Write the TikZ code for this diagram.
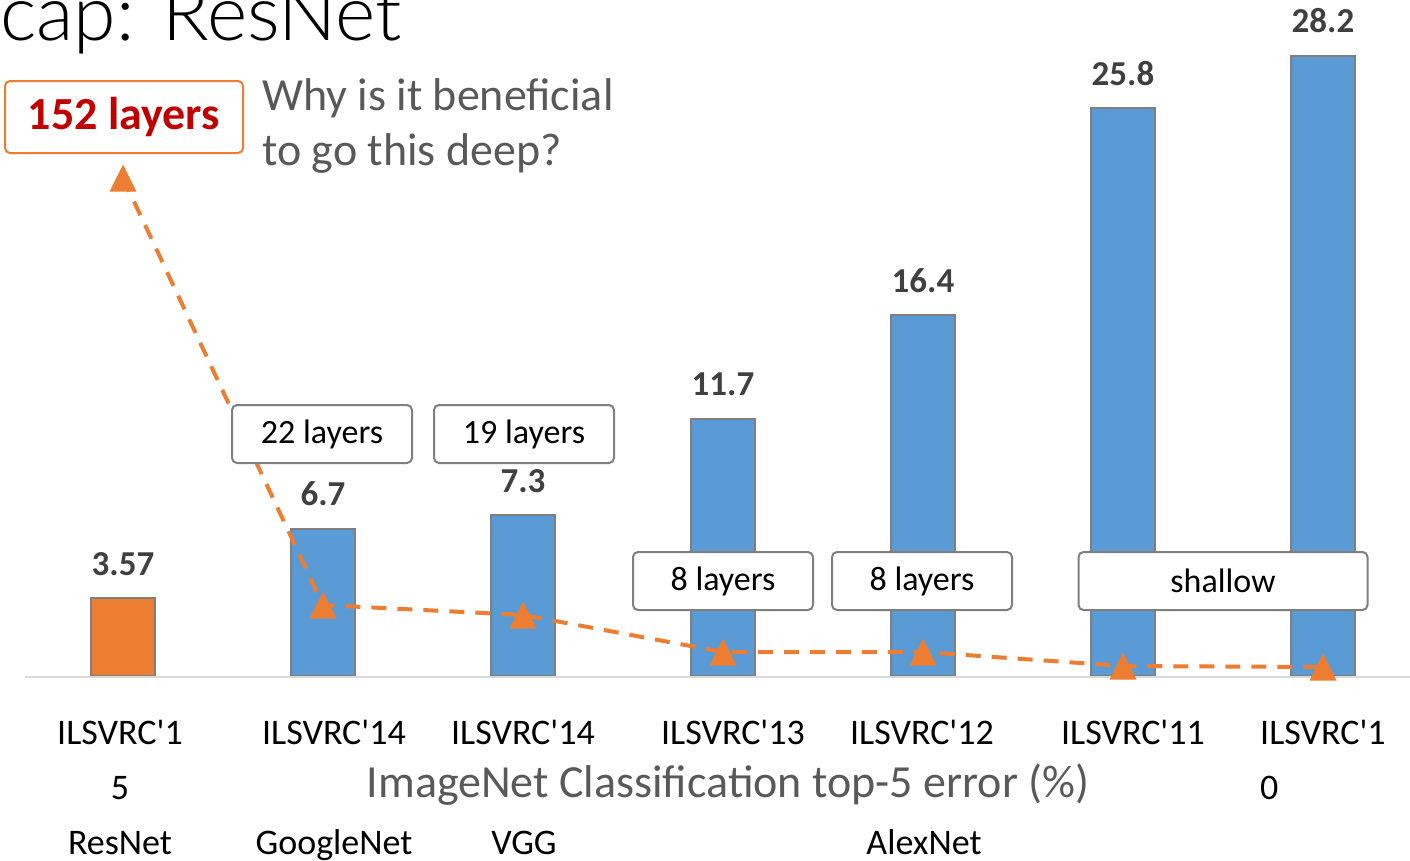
\documentclass[tikz,border=0pt]{standalone}
\usepackage{fontspec}
\setmainfont{Carlito}
% straight apostrophes in the category names
\newfontfamily\catfamily{Carlito}[Ligatures=TeXOff]
% light face for the heading
\newfontfamily\headfamily{Lato Light}
\definecolor{barblue}{HTML}{5B9BD5}
\definecolor{barorange}{HTML}{ED7D31}
\definecolor{edgegray}{HTML}{7F7F7F}
\definecolor{valgray}{HTML}{404040}
\definecolor{txtgray}{HTML}{595959}
\definecolor{deepred}{HTML}{C00000}
\definecolor{axisgray}{HTML}{D9D9D9}
\begin{document}
\begin{tikzpicture}[x=1pt,y=-1pt,
  bar/.style={draw=edgegray, line width=2pt, minimum width=64pt, inner sep=0pt, anchor=south},
  bluebar/.style={bar, fill=barblue},
  orangebar/.style={bar, fill=barorange},
  val/.style={font=\fontsize{35}{40}\selectfont\bfseries, text=valgray, anchor=base, inner sep=0pt},
  cat/.style={font=\catfamily\fontsize{36}{40}\selectfont, text=black, anchor=base, inner sep=0pt},
  layerbox/.style={draw=edgegray, line width=2pt, fill=white, rounded corners=5pt,
    minimum height=58pt, inner sep=0pt, font=\fontsize{34}{40}\selectfont},
  trend/.style={draw=barorange, line width=4pt, dash pattern=on 15pt off 11pt},
  mk/.pic={\fill[barorange] (-13.5,13.5) -- (13.5,13.5) -- (0,-13.5) -- cycle;}
]
\useasboundingbox (0,0) rectangle (1410,860);

% heading
\node[anchor=base west, inner sep=0pt, font=\headfamily\fontsize{77}{80}\selectfont] (title) at (0,40) {cap: ResNet};

% bars: 22pt per percentage point
\node[orangebar, minimum height=78.5pt] (b1) at (123,677) {};
\node[bluebar, minimum height=147.4pt] (b2) at (323,677) {};
\node[bluebar, minimum height=160.6pt] (b3) at (523,677) {};
\node[bluebar, minimum height=257.4pt] (b4) at (723,677) {};
\node[bluebar, minimum height=360.8pt] (b5) at (923,677) {};
\node[bluebar, minimum height=567.6pt] (b6) at (1123,677) {};
\node[bluebar, minimum height=620.4pt] (b7) at (1323,677) {};

% value labels
\node[val] (v1) at ([yshift=21pt]b1.north) {3.57};
\node[val] (v2) at ([yshift=22pt]b2.north) {6.7};
\node[val] (v3) at ([yshift=22pt]b3.north) {7.3};
\node[val] (v4) at ([yshift=22pt]b4.north) {11.7};
\node[val] (v5) at ([yshift=22pt]b5.north) {16.4};
\node[val] (v6) at ([yshift=22pt]b6.north) {25.8};
\node[val] (v7) at ([yshift=22pt]b7.north) {28.2};

% category axis
\coordinate (axL) at (25,677);
\coordinate (axR) at (1410,677);
\draw[axisgray, line width=2pt] (axL) -- (axR);

% depth trend line
\coordinate (m1) at (123,178);
\coordinate (m2) at (323,605);
\coordinate (m3) at (523,615);
\coordinate (m4) at (723,652);
\coordinate (m5) at (923,652);
\coordinate (m6) at (1123,666);
\coordinate (m7) at (1323,667);
\draw[trend] (m1) -- (m2) -- (m3) -- (m4) -- (m5) -- (m6) -- (m7);
\foreach \m in {m1,m2,m3,m4,m5,m6,m7} \pic at (\m) {mk};

% depth boxes
\node[layerbox, minimum width=180pt] (l2) at (322,434) {22 layers};
\node[layerbox, minimum width=180pt] (l3) at (524,434) {19 layers};
\node[layerbox, minimum width=180pt] (l4) at (723,581) {8 layers};
\node[layerbox, minimum width=180pt] (l5) at (922,581) {8 layers};
\node[layerbox, minimum width=289pt] (l6) at (1223,581) {shallow};
\node[draw=barorange, line width=2pt, fill=white, rounded corners=5pt,
  minimum width=238pt, minimum height=72pt, inner sep=0pt,
  font=\fontsize{46}{50}\selectfont\bfseries, text=deepred] (l1) at (124,117) {152 layers};

% question
\node[anchor=base west, inner sep=0pt, text=txtgray, font=\fontsize{46}{50}\selectfont] (q1) at (262,110) {Why is it beneficial};
\node[anchor=base west, inner sep=0pt, text=txtgray, font=\fontsize{46}{50}\selectfont] (q2) at (262,165) {to go this deep?};

% category labels
\node[cat] (c1a) at (120,744) {ILSVRC'1};
\node[cat] (c1b) at (120,799) {5};
\node[cat] (c1c) at (120,854) {ResNet};
\node[cat] (c2a) at (334,744) {ILSVRC'14};
\node[cat] (c2c) at (334,854) {GoogleNet};
\node[cat] (c3a) at (523,744) {ILSVRC'14};
\node[cat] (c3c) at (524,854) {VGG};
\node[cat] (c4a) at (733,744) {ILSVRC'13};
\node[cat] (c5a) at (922,744) {ILSVRC'12};
\node[cat] (c5c) at (924,854) {AlexNet};
\node[cat] (c6a) at (1133,744) {ILSVRC'11};
\node[cat, anchor=base west] (c7a) at (1260,744) {ILSVRC'1};
\node[cat, anchor=base west] (c7b) at (1260,799) {0};

% axis title
\node[anchor=base, inner sep=0pt, text=txtgray, font=\fontsize{46}{50}\selectfont] (axtitle) at (728,797) {ImageNet Classification top-5 error (\%)};
\end{tikzpicture}
\end{document}
